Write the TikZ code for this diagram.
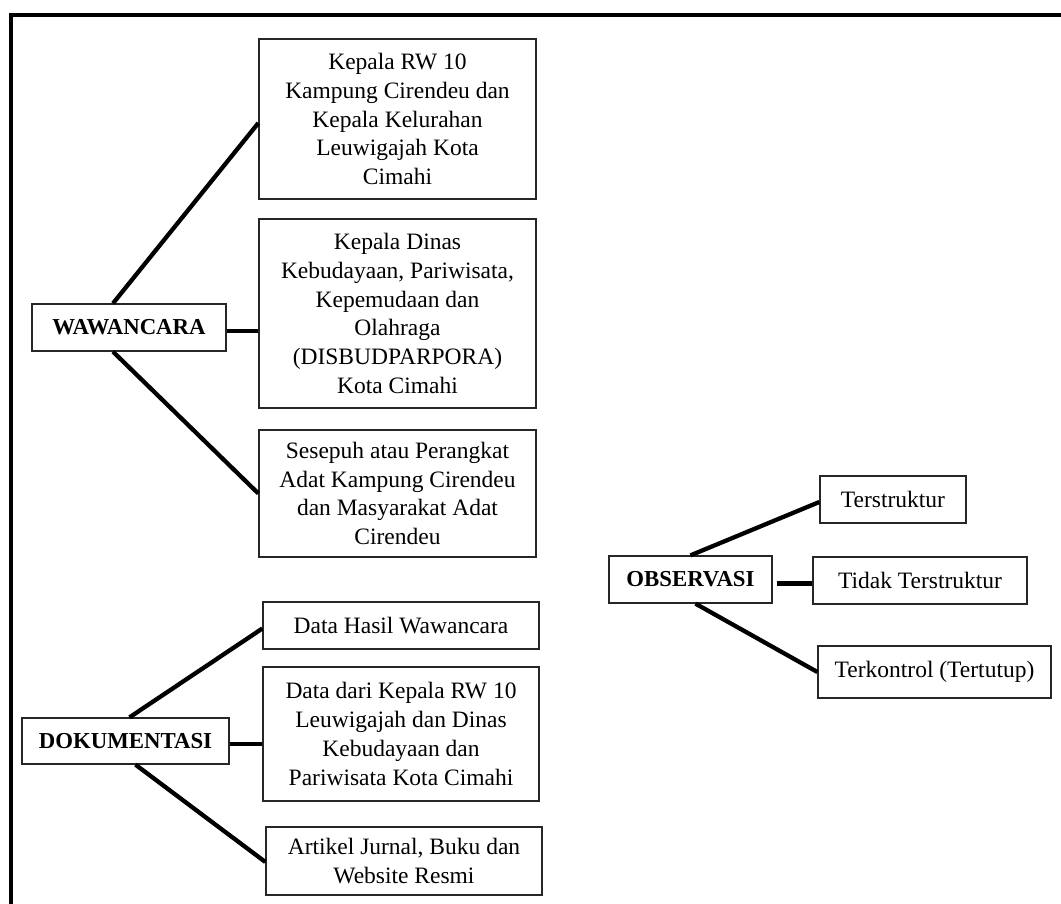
\documentclass[tikz,border=0pt]{standalone}
\usepackage{fontspec}
\setmainfont{Liberation Serif}
\begin{document}
\begin{tikzpicture}[x=1pt,y=-1pt,
  box/.style={draw=black!85,line width=1.3pt,inner sep=0pt,align=center,
    font=\fontsize{23.5}{28.8}\selectfont},
  headbox/.style={draw=black!85,line width=1.3pt,inner sep=0pt,align=center,
    font=\fontsize{22.8}{27}\selectfont\bfseries},
  link/.style={line width=4.3pt,black}]
\useasboundingbox (0,0) rectangle (1061,904);
\coordinate (ftl) at (11,15);
\coordinate (ftr) at (1061,15);
\coordinate (fbl) at (11,904);
\draw[line width=4.2pt] (fbl) -- (ftl) -- (ftr);

% WAWANCARA group
\node[headbox,minimum width=194pt,minimum height=47pt] (w) at (129,327.5) {WAWANCARA};
\node[box,minimum width=277pt,minimum height=160pt] (b1) at (397.5,119)
  {Kepala RW 10\\Kampung Cirendeu dan\\Kepala Kelurahan\\Leuwigajah Kota\\Cimahi};
\node[box,minimum width=277pt,minimum height=189pt] (b2) at (397.5,313.5)
  {Kepala Dinas\\Kebudayaan, Pariwisata,\\Kepemudaan dan\\Olahraga\\(DISBUDPARPORA)\\Kota Cimahi};
\node[box,minimum width=277pt,minimum height=127pt] (b3) at (397.5,493.5)
  {Sesepuh atau Perangkat\\Adat Kampung Cirendeu\\dan Masyarakat Adat\\Cirendeu};

% DOKUMENTASI group
\node[headbox,minimum width=207pt,minimum height=46pt] (d) at (125.5,741) {DOKUMENTASI};
\node[box,minimum width=276pt,minimum height=47pt] (dh) at (401,625.5) {Data Hasil Wawancara};
\node[box,minimum width=276pt,minimum height=134pt] (dd) at (401,734)
  {Data dari Kepala RW 10\\Leuwigajah dan Dinas\\Kebudayaan dan\\Pariwisata Kota Cimahi};
\node[box,minimum width=276pt,minimum height=68pt] (art) at (404,861)
  {Artikel Jurnal, Buku dan\\Website Resmi};

% OBSERVASI group
\node[headbox,minimum width=163pt,minimum height=47pt] (o) at (690.5,579.5) {OBSERVASI};
\node[box,minimum width=146pt,minimum height=47pt] (ts) at (893,499.5) {Terstruktur};
\node[box,minimum width=214pt,minimum height=47pt] (td) at (920,580.5) {Tidak Terstruktur};
\node[box,minimum width=233pt,minimum height=52pt] (tk) at (934.5,672) {Terkontrol (Tertutup)};

% connectors
\draw[link] ([xshift=-16pt]w.north) -- ([yshift=-4pt]b1.west);
\draw[link] ([yshift=-3.5pt]w.east) -- ([yshift=-3.5pt]w.east -| b2.west);
\draw[link] ([xshift=-16pt]w.south) -- (b3.west);

\draw[link] ([xshift=4pt]d.north) -- ([yshift=-3pt]dh.west);
\draw[link] ([yshift=-3pt]d.east) -- ([yshift=-3pt]d.east -| dd.west);
\draw[link] ([xshift=10pt]d.south) -- ([yshift=-1pt]art.west);

\draw[link] (o.north) -- ([yshift=-2.5pt]ts.west);
\draw[link] ([xshift=4pt,yshift=-4pt]o.east) -- ([yshift=-4pt]o.east -| td.west);
\draw[link] ([xshift=5pt]o.south) -- (tk.west);
\end{tikzpicture}
\end{document}
